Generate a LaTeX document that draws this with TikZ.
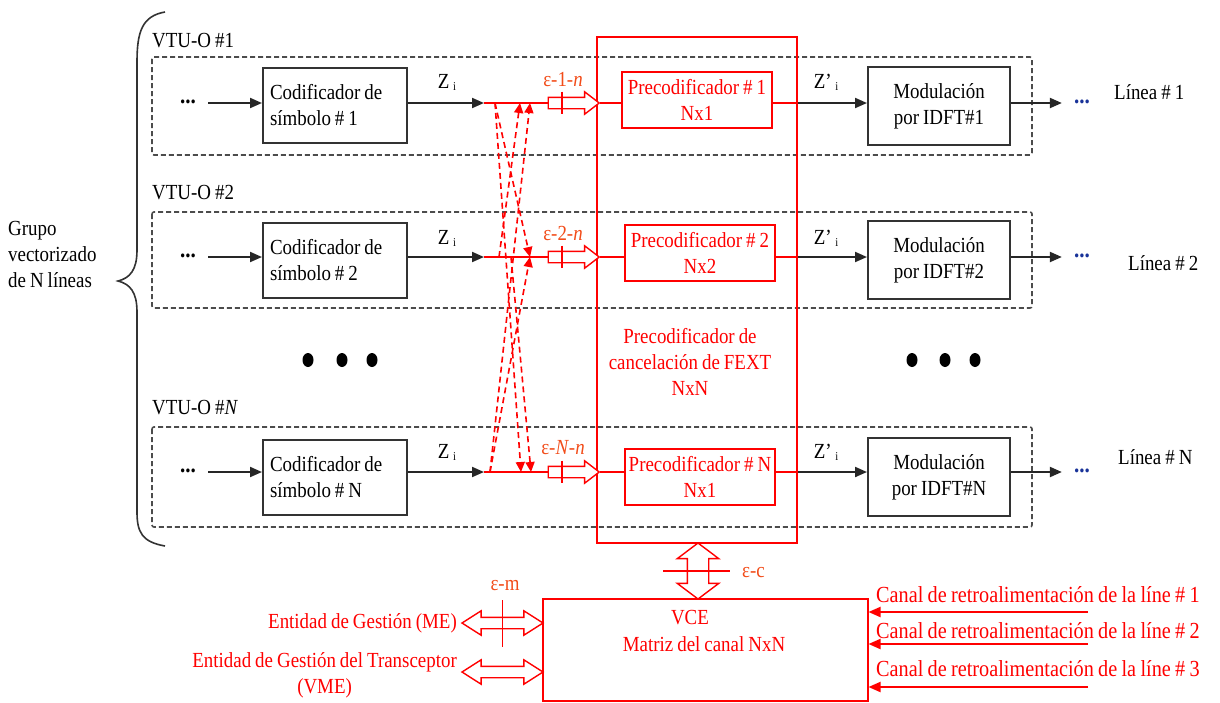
\documentclass[tikz,border=0pt]{standalone}
\usepackage{fontspec}
\setmainfont[FakeStretch=0.88,WordSpace=0.85]{Liberation Serif}
\usetikzlibrary{arrows.meta,positioning,shapes.arrows,calc}
\definecolor{epsred}{rgb}{0.95,0.3,0.1}
\definecolor{dotblue}{rgb}{0.1,0.2,0.6}
\newcommand{\dfont}{\fontsize{21.5}{26}\selectfont}
\newcommand{\fbfont}{\fontsize{23}{26}\selectfont}
\newcommand{\subi}{\raisebox{-2pt}{\fontsize{12}{12}\selectfont i}}

\begin{document}
\begin{tikzpicture}[x=1pt,y=-1pt,font=\dfont,
    vtubox/.style={draw=black!70, dash pattern=on 5pt off 3pt, line width=1.6pt, rounded corners=2pt},
    codbox/.style={draw=black!80, line width=2pt, minimum width=144pt, minimum height=75pt, text width=130pt, inner xsep=7pt, align=flush left},
    modbox/.style={draw=black!80, line width=2pt, minimum width=142pt, minimum height=78pt, align=center},
    prebox/.style={draw=red, line width=1.4pt, text=red, minimum width=150pt, minimum height=56pt, inner sep=1pt, align=center},
    blkarrow/.style={black!85, line width=2pt, -{Triangle[length=12pt,width=10pt]}},
    redline/.style={red, line width=1.6pt},
    xtalk/.style={red, line width=1.6pt, dash pattern=on 6pt off 4pt, -{Triangle[length=10pt,width=9pt]}},
    hollow/.style={single arrow, draw=red, line width=1.4pt, fill=white, minimum height=51pt, inner sep=5pt, single arrow head extend=5.5pt, single arrow tip angle=75},
    hollow2/.style={double arrow, draw=red, line width=1.4pt, fill=white},
    dotnode/.style={inner sep=0pt, font=\fontsize{24}{24}\selectfont\bfseries},
    redtxt/.style={text=red, inner sep=0pt},
    epstxt/.style={text=epsred, inner sep=0pt},
    fbarrow/.style={red, line width=2pt, -{Triangle[length=12pt,width=10pt]}}]
  \useasboundingbox (0,0) rectangle (1220,702);
  % brace and group label
  \draw[line width=1.6pt, black!80] (165,12) .. controls (142,16) and (137,32) .. (137,62) -- (137,250) .. controls (137,270) and (130,278) .. (118,281) .. controls (130,284) and (137,292) .. (137,312) -- (137,512) .. controls (137,532) and (142,542) .. (165,546);
  \node[anchor=west, align=left, inner sep=0pt] (grp) at (8,254) {Grupo\\vectorizado\\de N líneas};
  % VTU-O frames
  \draw[vtubox] (152,57) rectangle (1032,155);
  \draw[vtubox] (152,212) rectangle (1032,308);
  \draw[vtubox] (152,427) rectangle (1032,527);
  \node[anchor=west, inner sep=0pt] (vtu1) at (152,41) {VTU-O \#1};
  \node[anchor=west, inner sep=0pt] (vtu2) at (152,193) {VTU-O \#2};
  \node[anchor=west, inner sep=0pt] (vtuN) at (152,408) {VTU-O \#\textit{N}};
  % FEXT precoder frame
  \node[draw=red, line width=2.6pt, minimum width=200pt, minimum height=506pt] (fext) at (697,290) {};
  \node[redtxt, align=center] (fexttxt) at (690,362) {Precodificador de\\cancelación de FEXT\\NxN};
  % line 1
  \node[dotnode] (dl1) at (188,102) {...};
  \node[codbox] (cod1) at (335,105) {Codificador de\\símbolo \# 1};
  \coordinate (j1) at (484,103);
  \node[hollow] (ha1) at (570,103) {};
  \node[prebox] (pre1) at (697,100) {Precodificador \# 1\\Nx1};
  \node[modbox] (mod1) at (939,106) {Modulación\\por IDFT\#1};
  \node[dotnode, text=dotblue] (dr1) at (1082,102) {...};
  \node[anchor=west, inner sep=0pt] (lin1) at (1114,92) {Línea \# 1};
  \node[inner sep=0pt] (z1) at (447,82) {Z\,\subi};
  \node[inner sep=0pt] (zp1) at (826,82) {Z’\,\subi};
  \node[epstxt] (e1) at (563,80) {ε-1-\textit{n}};
  \draw[blkarrow] ([xshift=12pt]dl1.east |- j1) -- (cod1.west |- j1);
  \draw[blkarrow] (cod1.east |- j1) -- (j1);
  \draw[redline] (j1) -- (ha1.tail);
  \draw[redline] (ha1.tip) -- (pre1.west |- ha1.tip);
  \draw[redline] (pre1.east |- ha1.tip) -- (fext.east |- ha1.tip);
  \draw[blkarrow] (fext.east |- ha1.tip) -- (mod1.west |- ha1.tip);
  \draw[blkarrow] (mod1.east |- ha1.tip) -- ([xshift=-12pt]dr1.west |- ha1.tip);
  \draw[redline] ([xshift=-8pt,yshift=5pt]ha1.north) -- ([xshift=-8pt,yshift=-5pt]ha1.south);
  % line 2
  \node[dotnode] (dl2) at (188,256) {...};
  \node[codbox] (cod2) at (335,260) {Codificador de\\símbolo \# 2};
  \coordinate (j2) at (484,257);
  \node[hollow] (ha2) at (570,257) {};
  \node[prebox] (pre2) at (700,253) {Precodificador \# 2\\Nx2};
  \node[modbox] (mod2) at (939,260) {Modulación\\por IDFT\#2};
  \node[dotnode, text=dotblue] (dr2) at (1082,256) {...};
  \node[anchor=west, inner sep=0pt] (lin2) at (1128,263) {Línea \# 2};
  \node[inner sep=0pt] (z2) at (447,238) {Z\,\subi};
  \node[inner sep=0pt] (zp2) at (826,238) {Z’\,\subi};
  \node[epstxt] (e2) at (563,233) {ε-2-\textit{n}};
  \draw[blkarrow] ([xshift=12pt]dl2.east |- j2) -- (cod2.west |- j2);
  \draw[blkarrow] (cod2.east |- j2) -- (j2);
  \draw[redline] (j2) -- (ha2.tail);
  \draw[redline] (ha2.tip) -- (pre2.west |- ha2.tip);
  \draw[redline] (pre2.east |- ha2.tip) -- (fext.east |- ha2.tip);
  \draw[blkarrow] (fext.east |- ha2.tip) -- (mod2.west |- ha2.tip);
  \draw[blkarrow] (mod2.east |- ha2.tip) -- ([xshift=-12pt]dr2.west |- ha2.tip);
  \draw[redline] ([xshift=-8pt,yshift=5pt]ha2.north) -- ([xshift=-8pt,yshift=-5pt]ha2.south);
  % line N
  \node[dotnode] (dlN) at (188,471) {...};
  \node[codbox] (codN) at (335,477) {Codificador de\\símbolo \# N};
  \coordinate (jN) at (484,472);
  \node[hollow] (haN) at (570,472) {};
  \node[prebox] (preN) at (700,477) {Precodificador \# N\\Nx1};
  \node[modbox] (modN) at (939,477) {Modulación\\por IDFT\#N};
  \node[dotnode, text=dotblue] (drN) at (1082,471) {...};
  \node[anchor=west, inner sep=0pt] (linN) at (1118,457) {Línea \# N};
  \node[inner sep=0pt] (zN) at (447,452) {Z\,\subi};
  \node[inner sep=0pt] (zpN) at (826,452) {Z’\,\subi};
  \node[epstxt] (eN) at (563,448) {ε-\textit{N}-\textit{n}};
  \draw[blkarrow] ([xshift=12pt]dlN.east |- jN) -- (codN.west |- jN);
  \draw[blkarrow] (codN.east |- jN) -- (jN);
  \draw[redline] (jN) -- (haN.tail);
  \draw[redline] (haN.tip) -- (preN.west |- haN.tip);
  \draw[redline] (preN.east |- haN.tip) -- (fext.east |- haN.tip);
  \draw[blkarrow] (fext.east |- haN.tip) -- (modN.west |- haN.tip);
  \draw[blkarrow] (modN.east |- haN.tip) -- ([xshift=-12pt]drN.west |- haN.tip);
  \draw[redline] ([xshift=-8pt,yshift=5pt]haN.north) -- ([xshift=-8pt,yshift=-5pt]haN.south);
  % crosstalk between lines
  \coordinate (s1) at (495,103);
  \coordinate (t1a) at (520,103);
  \coordinate (t1b) at (530,103);
  \coordinate (s2a) at (499,257);
  \coordinate (s2b) at (511,257);
  \coordinate (t2) at (530,257);
  \coordinate (sN) at (490,472);
  \coordinate (tNa) at (521,472);
  \coordinate (tNb) at (531,472);
  \draw[xtalk] (s1) -- (t2);
  \draw[xtalk] (s1) -- (tNa);
  \draw[xtalk] (s2a) -- (t1a);
  \draw[xtalk] (s2b) -- (tNb);
  \draw[xtalk] (sN) -- (t1b);
  \draw[xtalk] (sN) -- (t2);
  % dots between lines
  \fill (308,360) ellipse [x radius=5.5pt, y radius=7pt];
  \fill (342,360) ellipse [x radius=5.5pt, y radius=7pt];
  \fill (372,360) ellipse [x radius=5.5pt, y radius=7pt];
  \fill (912,360) ellipse [x radius=5.5pt, y radius=7pt];
  \fill (945,360) ellipse [x radius=5.5pt, y radius=7pt];
  \fill (975,360) ellipse [x radius=5.5pt, y radius=7pt];
  % VCE
  \node[draw=red, line width=2pt, minimum width=325pt, minimum height=102pt] (vce) at (705,650) {};
  \node[redtxt] (vcet1) at (690,618) {VCE};
  \node[redtxt] (vcet2) at (704,644) {Matriz del canal NxN};
  \node[hollow2, rotate=90, minimum height=56pt, inner sep=10pt, double arrow head extend=10pt, double arrow tip angle=106] (dc) at (698,571) {};
  \draw[redline] ([xshift=-35pt]dc.center) -- ([xshift=32pt]dc.center);
  \node[epstxt, anchor=west] (ec) at (742,573) {ε-c};
  % management entities
  \node[hollow2, minimum height=81pt, inner sep=5pt, double arrow head extend=6.5pt, double arrow tip angle=65] (dme) at (502.5,623) {};
  \node[hollow2, minimum height=81pt, inner sep=5pt, double arrow head extend=6.5pt, double arrow tip angle=65] (dvme) at (502.5,672) {};
  \draw[redline] ([yshift=23pt]dme.center) -- ([yshift=-24pt]dme.center);
  \node[epstxt] (em) at (505,586) {ε-m};
  \node[redtxt, anchor=east] (me) at (457,623) {Entidad de Gestión (ME)};
  \node[redtxt, anchor=east, align=center] (vme) at (457,675) {Entidad de Gestión del Transceptor\\(VME)};
  % feedback channels
  \coordinate (fb1) at (1088,612);
  \coordinate (fb2) at (1088,644);
  \coordinate (fb3) at (1088,687);
  \draw[fbarrow] (fb1) -- (fb1 -| vce.east);
  \draw[fbarrow] (fb2) -- (fb2 -| vce.east);
  \draw[fbarrow] (fb3) -- (fb3 -| vce.east);
  \node[redtxt, anchor=west, font=\fbfont] (fbt1) at (876,595) {Canal de retroalimentación de la líne \# 1};
  \node[redtxt, anchor=west, font=\fbfont] (fbt2) at (876,631) {Canal de retroalimentación de la líne \# 2};
  \node[redtxt, anchor=west, font=\fbfont] (fbt3) at (876,669) {Canal de retroalimentación de la líne \# 3};
\end{tikzpicture}
\end{document}
